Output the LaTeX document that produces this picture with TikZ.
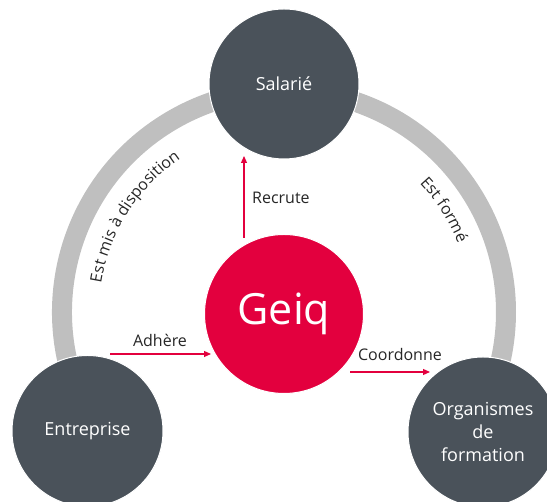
\documentclass[tikz,border=0pt]{standalone}
\usepackage{fontspec}
\setmainfont{Open Sans}
\usetikzlibrary{arrows.meta,decorations.text}
\definecolor{dk}{HTML}{4A525A}
\definecolor{rd}{HTML}{E3003E}
\definecolor{gy}{HTML}{BFBFBF}
\definecolor{tx}{HTML}{262626}
\tikzset{
  circ/.style={circle, draw=white, line width=1pt, inner sep=0pt, text=white, align=center, font=\fontsize{18}{23}\selectfont},
  outer/.style={circ, fill=dk, minimum size=150pt},
  link/.style={rd, line width=1.2pt, -{Triangle[length=7pt,width=6pt]}},
  lbl/.style={text=tx, font=\fontsize{16}{19}\selectfont, inner sep=0pt}
}
\begin{document}
\begin{tikzpicture}[x=1pt,y=1pt]
\useasboundingbox (0,0) rectangle (547,502);
\coordinate (ac) at (284,190);
\draw[gy, line width=20pt] (ac) ++(212:222) arc[start angle=212,end angle=-32,radius=222];
\path[decorate, decoration={text along path, text color=tx, text align=center,
  text={|\fontsize{16}{19}\selectfont|Est mis à disposition}}]
  (ac) ++(190:185) arc[start angle=190,end angle=105,radius=185];
\path[decorate, decoration={text along path, text color=tx, text align=center,
  text={|\fontsize{16}{19}\selectfont|Est formé}}]
  (ac) ++(60:187) arc[start angle=60,end angle=5,radius=187];
\node[outer] (sal) at (284,418) {Salarié};
\node[outer, minimum size=151pt] (ent) at (87.5,71) {Entreprise};
\node[outer] (org) at (483,70) {Organismes\\de\\formation};
\node[circ, fill=rd, minimum size=159pt, font=\fontsize{43}{50}\selectfont] (geiq) at (284,188) {Geiq};
\coordinate (r1) at (244,264);
\coordinate (r2) at (244,346);
\coordinate (a1) at (110,148);
\coordinate (a2) at (211,148);
\coordinate (c1) at (350,130);
\coordinate (c2) at (430,130);
\draw[link] (r1) -- (r2);
\draw[link] (a1) -- (a2);
\draw[link] (c1) -- (c2);
\node[lbl, anchor=west] (lrec) at (252,304) {Recrute};
\node[lbl] (ladh) at (160,162) {Adhère};
\node[lbl] (lcoo) at (400,147) {Coordonne};
\end{tikzpicture}
\end{document}
